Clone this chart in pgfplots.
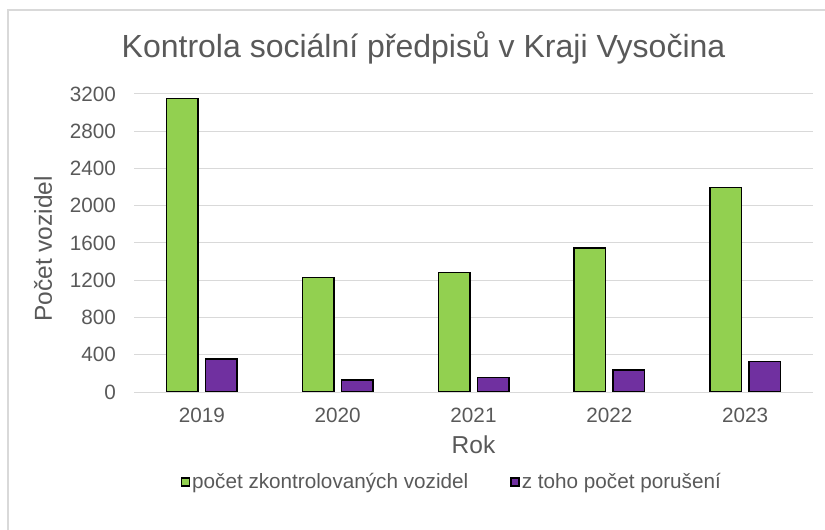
\documentclass[border=0pt]{standalone}
\usepackage{fontspec}
\setmainfont{Liberation Sans}
\usepackage{pgfplots}
\pgfplotsset{compat=1.18}
\definecolor{zelena}{HTML}{92D050}
\definecolor{fialova}{HTML}{7030A0}
\definecolor{textgray}{HTML}{595959}
\definecolor{gridgray}{HTML}{D9D9D9}

\begin{document}
\begin{tikzpicture}
\useasboundingbox (0,0) rectangle (825bp,530bp);
% ramecek grafu (vpravo a dole je oriznuty)
\draw[gridgray, line width=1.5bp] (8bp,-10bp) -- (8bp,520bp) -- (840bp,520bp);
\node[textgray, anchor=base, font=\fontsize{32bp}{38bp}\selectfont] at (423.5bp,472bp)
  {Kontrola sociální předpisů v Kraji Vysočina};
\begin{axis}[
  at={(134bp,138bp)}, anchor=south west,
  scale only axis, width=679bp, height=298bp,
  ybar=7.5bp, bar width=31.5bp,
  xmin=-0.5, xmax=4.5, ymin=0, ymax=3200,
  xtick=data, xticklabels={2019,2020,2021,2022,2023},
  ytick={0,400,...,3200},
  scaled y ticks=false,
  /pgf/number format/assume math mode=true,
  /pgf/number format/1000 sep={},
  ymajorgrids, major grid style={gridgray, line width=1bp},
  axis line style={draw=none},
  major tick length=0pt,
  tick label style={font=\fontsize{20.7bp}{24bp}\selectfont, text=textgray},
  xticklabel style={anchor=base, yshift=-30bp},
  yticklabel style={anchor=east, inner sep=0pt, xshift=-18bp},
  xlabel={Rok},
  xlabel style={at={(axis description cs:0.5,-0.178)}, anchor=center,
    font=\fontsize{24.5bp}{28bp}\selectfont, text=textgray},
  ylabel={Počet vozidel},
  ylabel style={at={(axis description cs:-0.134,0.48)}, anchor=center,
    font=\fontsize{24.5bp}{28bp}\selectfont, text=textgray},
  legend image code/.code={\draw[#1, line width=1.5bp] (0bp,-4bp) rectangle (8bp,4bp);},
  legend style={at={(axis description cs:0.468,-0.302)}, anchor=center,
    draw=none, fill=none, legend columns=2,
    font=\fontsize{20.7bp}{24bp}\selectfont, text=textgray,
    /tikz/every even column/.append style={column sep=40bp}},
]
\addplot[fill=zelena, draw=black, line width=1.5bp]
  coordinates {(0,3150) (1,1230) (2,1285) (3,1548) (4,2197)};
\addplot[fill=fialova, draw=black, line width=1.5bp]
  coordinates {(0,355) (1,129) (2,158) (3,237) (4,330)};
\legend{počet zkontrolovaných vozidel, z toho počet porušení}
\end{axis}
\end{tikzpicture}
\end{document}
